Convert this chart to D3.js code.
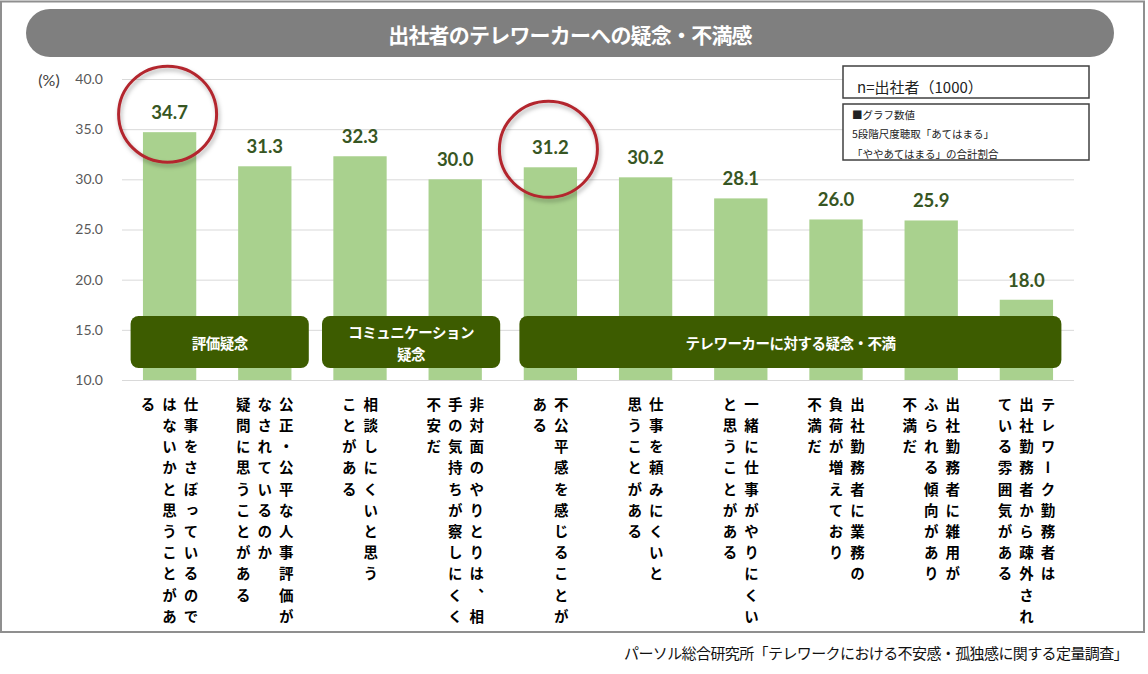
<!DOCTYPE html>
<html><head><meta charset="utf-8">
<script src="https://cdn.jsdelivr.net/npm/d3@7"></script>
<style>
html,body{margin:0;padding:0;background:#fff;}
svg{display:block;}
</style></head>
<body>
<svg id="chart" width="1148" height="674"></svg>
<script>
// ---- data ----
const categories = [
  "仕事をさぼっているのではないかと思うことがある",
  "公正・公平な人事評価がなされているのか疑問に思うことがある",
  "相談しにくいと思うことがある",
  "非対面のやりとりは、相手の気持ちが察しにくく不安だ",
  "不公平感を感じることがある",
  "仕事を頼みにくいと思うことがある",
  "一緒に仕事がやりにくいと思うことがある",
  "出社勤務者に業務の負荷が増えており不満だ",
  "出社勤務者に雑用がふられる傾向があり不満だ",
  "テレワーク勤務者は出社勤務者から疎外されている雰囲気がある"
];
// label columns (vertical writing, right to left)
const labelColumns = [
  ["仕事をさぼっているので", "はないかと思うことがあ", "る"],
  ["公正・公平な人事評価が", "なされているのか", "疑問に思うことがある"],
  ["相談しにくいと思う", "ことがある"],
  ["非対面のやりとりは、相", "手の気持ちが察しにくく", "不安だ"],
  ["不公平感を感じることが", "ある"],
  ["仕事を頼みにくいと", "思うことがある"],
  ["一緒に仕事がやりにくい", "と思うことがある"],
  ["出社勤務者に業務の", "負荷が増えており", "不満だ"],
  ["出社勤務者に雑用が", "ふられる傾向があり", "不満だ"],
  ["テレワーク勤務者は", "出社勤務者から疎外され", "ている雰囲気がある"]
];
const values = [34.7, 31.3, 32.3, 30.0, 31.2, 30.2, 28.1, 26.0, 25.9, 18.0];
const yTicks = [10, 15, 20, 25, 30, 35, 40];
const groupNames = [["評価疑念"], ["コミュニケーション", "疑念"], ["テレワーカーに対する疑念・不満"]];
const groupStart = [0, 2, 4];
const groupEnd = [1, 3, 9];
const highlighted = [0, 4];
const title = "出社者のテレワーカーへの疑念・不満感";
const sampleNote = "n=出社者（1000）";
const noteLines = ["■グラフ数値", "5段階尺度聴取「あてはまる」", "「ややあてはまる」の合計割合"];
const sourceText = "パーソル総合研究所「テレワークにおける不安感・孤独感に関する定量調査」";

// ---- drawing ----
const svg = d3.select("#chart");
const JP = "'Noto Sans CJK JP','Noto Sans',sans-serif";
const NUM = "Lato,'Open Sans',sans-serif";

// outer frame
svg.append("rect").attr("x", 1).attr("y", 1.5).attr("width", 1143).attr("height", 630.5)
  .attr("fill", "#fff").attr("stroke", "#8f8f8f").attr("stroke-width", 2);

// title pill
svg.append("rect").attr("x", 26).attr("y", 9).attr("width", 1088).attr("height", 48)
  .attr("rx", 24).attr("fill", "#7f7f7f");
svg.append("text").attr("x", 570).attr("y", 34).attr("text-anchor", "middle")
  .attr("dominant-baseline", "central").attr("fill", "#fff")
  .attr("font-family", JP).attr("font-weight", "bold").attr("font-size", 21)
  .attr("letter-spacing", -0.8).text(title);

const x = d3.scaleBand().domain(d3.range(values.length)).range([122, 1074]).paddingInner(0.44).paddingOuter(0.22);
const y = d3.scaleLinear().domain([10, 40]).range([380, 79]);

// gridlines
const axisG = svg.append("g").attr("transform", "translate(122,0)")
  .call(d3.axisLeft(y).tickValues(yTicks).tickFormat(d3.format(".1f")).tickSize(-952).tickPadding(19));
axisG.select(".domain").remove();
axisG.selectAll(".tick line").attr("stroke", "#d9d9d9").attr("stroke-width", 1);
axisG.selectAll(".tick text").attr("fill", "#595959").attr("font-family", NUM).attr("font-size", 14);
svg.append("text").attr("x", 49).attr("y", 79).attr("text-anchor", "middle").attr("dominant-baseline", "central")
  .attr("fill", "#404040").attr("font-family", NUM).attr("font-size", 16).text("(%)");

// bars
svg.append("g").selectAll("rect").data(values).join("rect")
  .attr("x", (d, i) => x(i)).attr("width", x.bandwidth())
  .attr("y", d => y(d)).attr("height", d => y(10) - y(d))
  .attr("fill", "#a9d18e");

// value labels
svg.append("g").selectAll("text").data(values).join("text")
  .attr("x", (d, i) => x(i) + x.bandwidth() / 2).attr("y", d => y(d) - 13)
  .attr("text-anchor", "middle").attr("fill", "#375623")
  .attr("font-family", NUM).attr("font-weight", "bold").attr("font-size", 18.5)
  .text(d => d3.format(".1f")(d));

// group boxes (left / right margins around first / last bar centre)
const boxPadL = [39, 38, 31];
const boxPadR = [44, 45, 35];
groupNames.forEach((lines, g) => {
  const x0 = x(groupStart[g]) + x.bandwidth() / 2 - boxPadL[g];
  const x1 = x(groupEnd[g]) + x.bandwidth() / 2 + boxPadR[g];
  svg.append("rect").attr("x", x0).attr("y", 316).attr("width", x1 - x0).attr("height", 52)
    .attr("rx", 8).attr("fill", "#3d5c00");
  const t = svg.append("text").attr("x", (x0 + x1) / 2).attr("text-anchor", "middle")
    .attr("fill", "#fff").attr("font-family", JP).attr("font-weight", "bold").attr("font-size", 14.5)
    .attr("letter-spacing", -0.5);
  lines.forEach((ln, k) => {
    t.append("tspan").attr("x", (x0 + x1) / 2)
      .attr("y", 342 + (k - (lines.length - 1) / 2) * 22)
      .attr("dominant-baseline", "central").text(ln);
  });
});

// highlight circles
const defs = svg.append("defs");
const f = defs.append("filter").attr("id", "sh").attr("x", "-20%").attr("y", "-20%").attr("width", "140%").attr("height", "140%");
f.append("feDropShadow").attr("dx", 1.5).attr("dy", 3).attr("stdDeviation", 2).attr("flood-color", "#000").attr("flood-opacity", 0.3);
svg.append("g").selectAll("ellipse").data(highlighted).join("ellipse")
  .attr("cx", i => x(i) + x.bandwidth() / 2 - 2).attr("cy", i => y(values[i]) - 18)
  .attr("rx", 49).attr("ry", 48).attr("fill", "none")
  .attr("stroke", "#b3262e").attr("stroke-width", 3).attr("filter", "url(#sh)");

// vertical category labels
const colGap = 21.5;
labelColumns.forEach((cols, i) => {
  const cx = x(i) + x.bandwidth() / 2;
  cols.forEach((c, k) => {
    svg.append("text")
      .attr("x", cx + ((cols.length - 1) / 2 - k) * colGap)
      .attr("y", 397)
      .style("writing-mode", "vertical-rl")
      .attr("fill", "#000").attr("font-family", JP).attr("font-weight", "bold")
      .attr("font-size", 14.5).attr("letter-spacing", 6.7)
      .text(c);
  });
});

// note boxes
svg.append("rect").attr("x", 843).attr("y", 66).attr("width", 246).attr("height", 32)
  .attr("fill", "#fff").attr("stroke", "#404040").attr("stroke-width", 1.5);
svg.append("text").attr("x", 857).attr("y", 86).attr("dominant-baseline", "central")
  .attr("fill", "#222").attr("font-family", JP).attr("font-size", 15).text(sampleNote);
defs.append("clipPath").attr("id", "noteclip").append("rect")
  .attr("x", 843).attr("y", 104).attr("width", 246).attr("height", 56);
svg.append("rect").attr("x", 843).attr("y", 104).attr("width", 246).attr("height", 56)
  .attr("fill", "#fff");
svg.append("g").attr("clip-path", "url(#noteclip)").selectAll("text").data(noteLines).join("text")
  .attr("x", 852).attr("y", (d, i) => 114 + i * 19.7).attr("dominant-baseline", "central")
  .attr("fill", "#222").attr("font-family", JP).attr("font-size", 10.5).text(d => d);
svg.append("rect").attr("x", 843).attr("y", 104).attr("width", 246).attr("height", 56)
  .attr("fill", "none").attr("stroke", "#404040").attr("stroke-width", 1.5);

// source
svg.append("text").attr("x", 1128).attr("y", 652).attr("text-anchor", "end").attr("dominant-baseline", "central")
  .attr("fill", "#111").attr("font-family", JP).attr("font-size", 15).attr("letter-spacing", -0.6).text(sourceText);
</script>
</body></html>
